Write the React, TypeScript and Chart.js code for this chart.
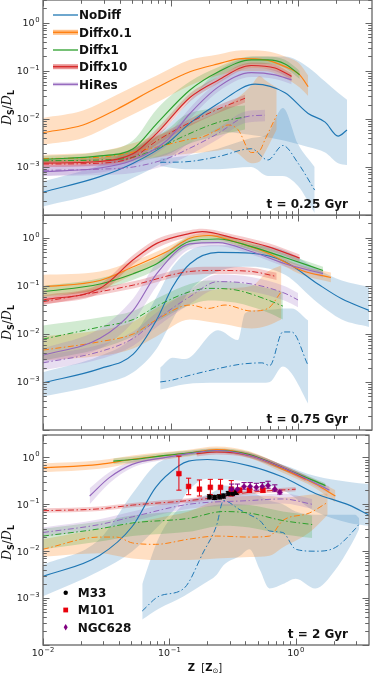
import React, { useEffect, useRef } from 'react';
import { Chart, registerables } from 'chart.js';

Chart.register(...registerables);

// ---------------- meta ----------------
const SERIES = ['NoDiff', 'Diffx0.1', 'Diffx1', 'Diffx10', 'HiRes'];
const COLORS = ['#1f77b4', '#ff7f0e', '#2ca02c', '#d62728', '#9467bd'];
const BAND_ALPHA = [0.22, 0.25, 0.22, 0.24, 0.22];
const PANEL_TIMES = ['t = 0.25 Gyr', 't = 0.75 Gyr', 't = 2 Gyr'];
const X_MIN = 0.01;
const X_MAX = 3.8;
const Y_MIN = 1e-4;
const Y_MAX = 3;
const X_MAJOR = [0.01, 0.1, 1];
const X_MINOR = [0.02, 0.03, 0.04, 0.05, 0.06, 0.07, 0.08, 0.09, 0.2, 0.3, 0.4, 0.5, 0.6, 0.7, 0.8, 0.9, 2, 3];
const Y_MAJOR = [1e-4, 1e-3, 1e-2, 1e-1, 1];
const Y_MINOR = [
  2e-4, 3e-4, 4e-4, 5e-4, 6e-4, 7e-4, 8e-4, 9e-4,
  2e-3, 3e-3, 4e-3, 5e-3, 6e-3, 7e-3, 8e-3, 9e-3,
  0.02, 0.03, 0.04, 0.05, 0.06, 0.07, 0.08, 0.09,
  0.2, 0.3, 0.4, 0.5, 0.6, 0.7, 0.8, 0.9, 2, 3,
];
const Y_TICK_VALUES = [1, 0.1, 0.01, 0.001];
const Y_TICK_EXP = ['0', '\u22121', '\u22122', '\u22123'];
const X_TICK_VALUES = [0.01, 0.1, 1];
const X_TICK_EXP = ['\u22122', '\u22121', '0'];
const OBS_NAMES = ['M33', 'M101', 'NGC628'];

// ---------------- t = 0.25 Gyr ----------------
const t1_nodiff_x = [0.01, 0.028, 0.051, 0.094, 0.142, 0.236, 0.46, 0.79, 1.2, 1.63, 2.06, 2.42];
const t1_nodiff_med = [3.0e-4, 6.3e-4, 1.2e-3, 3.1e-3, 8.2e-3, 0.021, 0.053, 0.035, 0.013, 8.6e-3, 4.4e-3, 5.9e-3];
const t1_nodiff_lo = [1.5e-4, 3.0e-4, 6.0e-4, 1.4e-3, 3.2e-3, 5.5e-3, 4.5e-3, 3.5e-3, 2.6e-3, 2.0e-3, 1.2e-3, 1.1e-3];
const t1_nodiff_hi = [5.0e-4, 1.1e-3, 2.5e-3, 7.0e-3, 0.025, 0.1, 0.2, 0.2, 0.12, 0.06, 0.035, 0.025];
const t1_nodiff_dash_x = [0.083, 0.13, 0.236, 0.43, 0.58, 0.76, 1.0, 1.35];
const t1_nodiff_dash_val = [1.25e-3, 1.28e-3, 1.64e-3, 2.4e-3, 1.4e-3, 2.8e-3, 1.2e-3, 3.3e-4];
const t1_nodiff_dash_lo = [1.05e-3, 9.0e-4, 9.0e-4, 1.0e-3, 6.5e-4, 6.5e-4, 4.0e-4, 1.1e-4];
const t1_nodiff_dash_hi = [1.5e-3, 1.7e-3, 2.4e-3, 4.0e-3, 5.0e-3, 0.017, 3.0e-3, 1.0e-3];

const t1_d01_x = [0.01, 0.0206, 0.038, 0.078, 0.142, 0.236, 0.363, 0.55, 0.79, 1.03, 1.2];
const t1_d01_med = [5.2e-3, 7.5e-3, 0.016, 0.045, 0.096, 0.14, 0.18, 0.17, 0.123, 0.083, 0.047];
const t1_d01_lo = [2.9e-3, 4.0e-3, 8.5e-3, 0.022, 0.05, 0.08, 0.1, 0.1, 0.07, 0.045, 0.03];
const t1_d01_hi = [0.0105, 0.015, 0.032, 0.08, 0.17, 0.22, 0.27, 0.26, 0.2, 0.14, 0.08];
const t1_d01_dash_x = [0.01, 0.028, 0.078, 0.142, 0.177, 0.236, 0.283, 0.338, 0.43, 0.5, 0.55, 0.68];
const t1_d01_dash_val = [1.5e-3, 1.6e-3, 2.6e-3, 3.8e-3, 4.2e-3, 6.0e-3, 7.5e-3, 6.0e-3, 2.0e-3, 2.2e-3, 3.7e-3, 0.012];
const t1_d01_dash_lo = [1.25e-3, 1.3e-3, 1.6e-3, 1.9e-3, 2.0e-3, 2.2e-3, 2.4e-3, 1.9e-3, 1.2e-3, 1.3e-3, 2.0e-3, 6.0e-3];
const t1_d01_dash_hi = [1.8e-3, 2.1e-3, 4.5e-3, 8.0e-3, 0.01, 0.014, 0.02, 0.028, 0.05, 0.078, 0.065, 0.045];

const t1_d1_x = [0.01, 0.028, 0.051, 0.078, 0.142, 0.236, 0.43, 0.58, 0.79, 1.03];
const t1_d1_med = [1.45e-3, 1.7e-3, 2.4e-3, 8.0e-3, 0.04, 0.095, 0.17, 0.17, 0.14, 0.083];
const t1_d1_lo = [1.25e-3, 1.45e-3, 1.8e-3, 5.0e-3, 0.028, 0.075, 0.14, 0.14, 0.115, 0.068];
const t1_d1_hi = [1.7e-3, 2.1e-3, 3.6e-3, 0.016, 0.06, 0.12, 0.2, 0.2, 0.17, 0.1];
const t1_d1_dash_x = [0.01, 0.028, 0.051, 0.094, 0.13, 0.236, 0.384];
const t1_d1_dash_val = [1.35e-3, 1.4e-3, 1.6e-3, 3.0e-3, 4.5e-3, 8.5e-3, 0.011];
const t1_d1_dash_lo = [1.2e-3, 1.2e-3, 1.3e-3, 1.8e-3, 2.8e-3, 4.5e-3, 6.0e-3];
const t1_d1_dash_hi = [1.5e-3, 1.7e-3, 2.4e-3, 6.0e-3, 0.012, 0.017, 0.019];

const t1_d10_x = [0.01, 0.028, 0.051, 0.078, 0.142, 0.236, 0.43, 0.66, 0.89];
const t1_d10_med = [1.2e-3, 1.3e-3, 1.9e-3, 5.0e-3, 0.028, 0.064, 0.13, 0.115, 0.077];
const t1_d10_lo = [1.0e-3, 1.1e-3, 1.6e-3, 4.0e-3, 0.023, 0.055, 0.115, 0.1, 0.066];
const t1_d10_hi = [1.4e-3, 1.55e-3, 2.3e-3, 6.2e-3, 0.034, 0.075, 0.15, 0.135, 0.09];
const t1_d10_dash_x = [0.01, 0.028, 0.051, 0.078, 0.13, 0.223, 0.384];
const t1_d10_dash_val = [1.15e-3, 1.2e-3, 1.6e-3, 3.5e-3, 7.5e-3, 0.015, 0.027];
const t1_d10_dash_lo = [1.0e-3, 1.05e-3, 1.35e-3, 2.9e-3, 6.3e-3, 0.0125, 0.022];
const t1_d10_dash_hi = [1.35e-3, 1.4e-3, 1.9e-3, 4.2e-3, 9.0e-3, 0.018, 0.032];

const t1_hires_x = [0.01, 0.028, 0.051, 0.094, 0.142, 0.236, 0.43, 0.66, 0.89];
const t1_hires_med = [8.0e-4, 9.5e-4, 1.4e-3, 3.6e-3, 0.013, 0.046, 0.092, 0.083, 0.065];
const t1_hires_lo = [6.5e-4, 7.7e-4, 1.1e-3, 2.8e-3, 0.01, 0.037, 0.075, 0.068, 0.053];
const t1_hires_hi = [1.0e-3, 1.2e-3, 1.8e-3, 4.6e-3, 0.017, 0.058, 0.115, 0.104, 0.081];
const t1_hires_dash_x = [0.01, 0.028, 0.051, 0.094, 0.13, 0.236, 0.384, 0.55];
const t1_hires_dash_val = [8.5e-4, 9.0e-4, 1.0e-3, 1.5e-3, 2.2e-3, 5.0e-3, 0.011, 0.012];
const t1_hires_dash_lo = [6.5e-4, 6.8e-4, 7.5e-4, 1.1e-3, 1.6e-3, 3.8e-3, 8.2e-3, 9.0e-3];
const t1_hires_dash_hi = [1.1e-3, 1.17e-3, 1.3e-3, 1.95e-3, 2.9e-3, 6.5e-3, 0.0143, 0.0156];

// ---------------- t = 0.75 Gyr ----------------
const t2_nodiff_x = [0.01, 0.028, 0.051, 0.078, 0.104, 0.142, 0.236, 0.43, 0.79, 1.43, 2.2, 3.6];
const t2_nodiff_med = [9.6e-4, 1.9e-3, 3.8e-3, 0.02, 0.096, 0.29, 0.5, 0.48, 0.32, 0.11, 0.054, 0.031];
const t2_nodiff_lo = [5.0e-4, 9.0e-4, 1.6e-3, 5.0e-3, 0.02, 0.08, 0.2, 0.25, 0.17, 0.044, 0.02, 0.014];
const t2_nodiff_hi = [1.6e-3, 3.5e-3, 9.0e-3, 0.06, 0.25, 0.55, 0.7, 0.7, 0.55, 0.22, 0.13, 0.096];
const t2_nodiff_dash_x = [0.083, 0.104, 0.13, 0.236, 0.338, 0.384, 0.52, 0.6, 0.76, 0.89, 1.2];
const t2_nodiff_dash_val = [1.0e-3, 1.1e-3, 1.3e-3, 1.9e-3, 2.3e-3, 2.4e-3, 2.5e-3, 2.2e-3, 0.011, 0.011, 2.2e-3];
const t2_nodiff_dash_lo = [7.0e-4, 8.0e-4, 9.0e-4, 9.6e-4, 9.6e-4, 9.6e-4, 9.6e-4, 1.0e-3, 2.1e-3, 1.5e-3, 3.5e-4];
const t2_nodiff_dash_hi = [2.0e-3, 3.2e-3, 3.0e-3, 0.012, 7.5e-3, 0.027, 0.032, 0.032, 0.034, 0.034, 0.019];

const t2_d01_x = [0.01, 0.028, 0.051, 0.094, 0.142, 0.2, 0.32, 0.58, 1.07, 1.81];
const t2_d01_med = [0.096, 0.13, 0.25, 0.52, 0.98, 1.12, 0.83, 0.48, 0.21, 0.15];
const t2_d01_lo = [0.06, 0.085, 0.17, 0.4, 0.85, 1.0, 0.72, 0.4, 0.17, 0.12];
const t2_d01_hi = [0.17, 0.2, 0.33, 0.65, 1.1, 1.3, 0.95, 0.56, 0.26, 0.19];
const t2_d01_dash_x = [0.01, 0.028, 0.051, 0.078, 0.142, 0.197, 0.268, 0.43, 0.58, 0.74];
const t2_d01_dash_val = [4.6e-3, 6.9e-3, 0.01, 0.02, 0.04, 0.034, 0.04, 0.03, 0.034, 0.076];
const t2_d01_dash_lo = [2.8e-3, 3.5e-3, 5.0e-3, 9.0e-3, 0.02, 0.018, 0.016, 0.013, 0.015, 0.02];
const t2_d01_dash_hi = [9.0e-3, 0.012, 0.018, 0.035, 0.07, 0.08, 0.09, 0.1, 0.2, 0.27];

const t2_d1_x = [0.01, 0.028, 0.051, 0.078, 0.142, 0.236, 0.43, 0.79, 1.57];
const t2_d1_med = [0.076, 0.11, 0.18, 0.29, 0.85, 0.95, 0.66, 0.39, 0.21];
const t2_d1_lo = [0.057, 0.083, 0.135, 0.22, 0.68, 0.8, 0.56, 0.33, 0.175];
const t2_d1_hi = [0.1, 0.145, 0.24, 0.38, 1.05, 1.15, 0.8, 0.47, 0.25];
const t2_d1_dash_x = [0.01, 0.028, 0.051, 0.078, 0.142, 0.197, 0.32, 0.58, 0.76];
const t2_d1_dash_val = [7.8e-3, 0.014, 0.02, 0.038, 0.076, 0.089, 0.083, 0.051, 0.038];
const t2_d1_dash_lo = [2.8e-3, 5.0e-3, 9.0e-3, 0.018, 0.04, 0.05, 0.045, 0.028, 0.02];
const t2_d1_dash_hi = [0.015, 0.022, 0.03, 0.055, 0.11, 0.13, 0.12, 0.09, 0.075];

const t2_d10_x = [0.01, 0.028, 0.051, 0.078, 0.142, 0.177, 0.32, 0.58, 1.03];
const t2_d10_med = [0.051, 0.089, 0.35, 0.77, 1.24, 1.35, 0.98, 0.66, 0.38];
const t2_d10_lo = [0.041, 0.071, 0.28, 0.62, 1.05, 1.15, 0.83, 0.56, 0.32];
const t2_d10_hi = [0.064, 0.11, 0.44, 0.95, 1.45, 1.55, 1.15, 0.78, 0.45];
const t2_d10_dash_x = [0.01, 0.028, 0.051, 0.142, 0.236, 0.43, 0.68];
const t2_d10_dash_val = [0.047, 0.076, 0.104, 0.2, 0.21, 0.2, 0.157];
const t2_d10_dash_lo = [0.04, 0.065, 0.088, 0.17, 0.178, 0.17, 0.133];
const t2_d10_dash_hi = [0.056, 0.091, 0.125, 0.24, 0.25, 0.24, 0.188];

const t2_hires_x = [0.01, 0.028, 0.051, 0.078, 0.142, 0.236, 0.43, 0.79, 1.57];
const t2_hires_med = [3.6e-3, 8.1e-3, 0.031, 0.18, 0.75, 0.8, 0.52, 0.29, 0.18];
const t2_hires_lo = [2.5e-3, 5.0e-3, 0.018, 0.1, 0.58, 0.67, 0.45, 0.25, 0.15];
const t2_hires_hi = [5.0e-3, 0.013, 0.055, 0.3, 0.92, 0.95, 0.6, 0.34, 0.21];
const t2_hires_dash_x = [0.01, 0.028, 0.051, 0.078, 0.142, 0.236, 0.43, 0.79, 1.0];
const t2_hires_dash_val = [2.5e-3, 4.3e-3, 8.1e-3, 0.02, 0.06, 0.123, 0.11, 0.07, 0.051];
const t2_hires_dash_lo = [1.75e-3, 3.0e-3, 5.7e-3, 0.014, 0.042, 0.086, 0.077, 0.049, 0.036];
const t2_hires_dash_hi = [3.5e-3, 6.0e-3, 0.0113, 0.028, 0.084, 0.172, 0.154, 0.098, 0.071];

// ---------------- t = 2 Gyr ----------------
const t3_nodiff_x = [0.01, 0.028, 0.051, 0.078, 0.119, 0.142, 0.2, 0.43, 0.79, 1.43, 2.65, 3.77];
const t3_nodiff_med = [2.9e-3, 8.1e-3, 0.034, 0.23, 0.66, 0.83, 0.9, 0.66, 0.38, 0.17, 0.096, 0.06];
const t3_nodiff_lo = [1.1e-3, 3.8e-3, 0.01, 0.03, 0.1, 0.2, 0.35, 0.3, 0.2, 0.07, 0.04, 0.035];
const t3_nodiff_hi = [5.1e-3, 0.018, 0.17, 0.7, 1.1, 1.2, 1.3, 1.1, 0.7, 0.4, 0.3, 0.27];
const t3_nodiff_dash_x = [0.061, 0.083, 0.13, 0.186, 0.236, 0.268, 0.363, 0.43, 0.52, 0.62, 0.79, 1.0, 1.43, 2.06, 2.96, 3.18];
const t3_nodiff_dash_val = [5.3e-4, 1.1e-3, 1.6e-3, 9.6e-3, 0.035, 0.12, 0.076, 0.06, 0.045, 0.027, 0.025, 0.011, 0.01, 0.012, 0.03, 0.038];
const t3_nodiff_dash_lo = [3.5e-4, 6.0e-4, 1.1e-3, 2.0e-3, 3.1e-3, 5.0e-3, 8.0e-3, 0.011, 4.0e-3, 1.6e-3, 2.0e-3, 2.6e-3, 1.6e-3, 4.0e-3, 0.02, 0.03];
const t3_nodiff_dash_hi = [2.0e-3, 0.02, 0.1, 0.15, 0.2, 0.25, 0.22, 0.2, 0.15, 0.12, 0.1, 0.07, 0.06, 0.06, 0.06, 0.05];

const t3_d01_x = [0.01, 0.028, 0.051, 0.142, 0.236, 0.43, 0.79, 1.43, 2.06];
const t3_d01_med = [0.6, 0.71, 0.91, 1.24, 1.47, 1.14, 0.56, 0.27, 0.15];
const t3_d01_lo = [0.48, 0.57, 0.75, 1.05, 1.27, 0.97, 0.47, 0.22, 0.11];
const t3_d01_hi = [0.74, 0.87, 1.1, 1.45, 1.7, 1.35, 0.67, 0.33, 0.2];
const t3_d01_dash_x = [0.01, 0.028, 0.038, 0.051, 0.078, 0.142, 0.236, 0.43, 0.62, 0.79, 1.28, 1.79];
const t3_d01_dash_val = [0.011, 0.02, 0.02, 0.015, 0.014, 0.018, 0.021, 0.02, 0.021, 0.045, 0.065, 0.11];
const t3_d01_dash_lo = [7.6e-3, 9.0e-3, 8.0e-3, 7.0e-3, 6.5e-3, 6.5e-3, 7.0e-3, 7.5e-3, 8.0e-3, 0.012, 0.025, 0.06];
const t3_d01_dash_hi = [0.018, 0.03, 0.035, 0.04, 0.05, 0.07, 0.12, 0.15, 0.15, 0.14, 0.16, 0.17];

const t3_d1_x = [0.036, 0.051, 0.094, 0.142, 0.236, 0.43, 0.79, 1.72];
const t3_d1_med = [0.83, 0.9, 1.1, 1.24, 1.4, 1.15, 0.6, 0.25];
const t3_d1_lo = [0.72, 0.78, 0.96, 1.1, 1.25, 1.02, 0.53, 0.22];
const t3_d1_hi = [0.95, 1.03, 1.25, 1.4, 1.57, 1.3, 0.68, 0.28];
const t3_d1_dash_x = [0.01, 0.028, 0.051, 0.142, 0.268, 0.43, 0.79, 1.35];
const t3_d1_dash_val = [0.021, 0.03, 0.04, 0.05, 0.07, 0.065, 0.045, 0.037];
const t3_d1_dash_lo = [0.011, 0.016, 0.021, 0.026, 0.035, 0.032, 0.023, 0.019];
const t3_d1_dash_hi = [0.03, 0.043, 0.058, 0.075, 0.1, 0.096, 0.07, 0.058];

const t3_d10_x = [0.164, 0.236, 0.43, 0.79, 1.2];
const t3_d10_med = [1.2, 1.3, 1.1, 0.6, 0.35];
const t3_d10_lo = [1.05, 1.15, 0.97, 0.53, 0.31];
const t3_d10_hi = [1.35, 1.47, 1.25, 0.68, 0.4];
const t3_d10_dash_x = [0.01, 0.028, 0.051, 0.142, 0.236, 0.43, 1.0];
const t3_d10_dash_val = [0.073, 0.08, 0.096, 0.12, 0.14, 0.18, 0.21];
const t3_d10_dash_lo = [0.066, 0.072, 0.086, 0.108, 0.126, 0.162, 0.19];
const t3_d10_dash_hi = [0.082, 0.09, 0.107, 0.134, 0.157, 0.2, 0.235];

const t3_hires_x = [0.0234, 0.0335, 0.0508, 0.094, 0.142, 0.236, 0.43, 0.79, 1.85];
const t3_hires_med = [0.15, 0.37, 0.71, 1.0, 1.2, 1.4, 1.1, 0.6, 0.2];
const t3_hires_lo = [0.1, 0.28, 0.6, 0.9, 1.1, 1.25, 1.0, 0.53, 0.17];
const t3_hires_hi = [0.22, 0.48, 0.85, 1.15, 1.35, 1.55, 1.25, 0.68, 0.24];
const t3_hires_dash_x = [0.01, 0.028, 0.051, 0.142, 0.43, 0.79, 1.35];
const t3_hires_dash_val = [0.025, 0.037, 0.054, 0.1, 0.12, 0.13, 0.1];
const t3_hires_dash_lo = [0.02, 0.03, 0.043, 0.08, 0.096, 0.104, 0.08];
const t3_hires_dash_hi = [0.032, 0.048, 0.07, 0.13, 0.156, 0.17, 0.13];

// ---------------- observations (t = 2 Gyr panel) ----------------
const m33_x = [0.208, 0.228, 0.249, 0.268, 0.293, 0.316, 0.338];
const m33_y = [0.145, 0.14, 0.145, 0.15, 0.17, 0.17, 0.18];
const m33_lo = [0.13, 0.126, 0.13, 0.135, 0.153, 0.153, 0.162];
const m33_hi = [0.16, 0.155, 0.16, 0.166, 0.188, 0.19, 0.2];

const m101_x = [0.119, 0.142, 0.173, 0.211, 0.254, 0.309, 0.36, 0.43, 0.55];
const m101_y = [0.45, 0.24, 0.21, 0.23, 0.23, 0.21, 0.2, 0.2, 0.2];
const m101_lo = [0.2, 0.16, 0.15, 0.16, 0.16, 0.15, 0.18, 0.18, 0.18];
const m101_hi = [1.06, 0.36, 0.33, 0.34, 0.34, 0.32, 0.22, 0.22, 0.22];

const ngc628_x = [0.311, 0.346, 0.39, 0.436, 0.488, 0.544, 0.604, 0.683, 0.748];
const ngc628_y = [0.21, 0.21, 0.24, 0.24, 0.23, 0.24, 0.25, 0.21, 0.18];
const ngc628_lo = [0.18, 0.18, 0.21, 0.21, 0.2, 0.21, 0.22, 0.19, 0.165];
const ngc628_hi = [0.27, 0.27, 0.29, 0.29, 0.28, 0.29, 0.31, 0.26, 0.2];

// ---------------- tables built from the arrays ----------------
type Band = { x: number[]; m: number[]; lo: number[]; hi: number[] };
const mk = (x: number[], m: number[], lo: number[], hi: number[]): Band => ({ x, m, lo, hi });

const PANELS: { solid: Band[]; dash: Band[] }[] = [
  {
    solid: [
      mk(t1_nodiff_x, t1_nodiff_med, t1_nodiff_lo, t1_nodiff_hi),
      mk(t1_d01_x, t1_d01_med, t1_d01_lo, t1_d01_hi),
      mk(t1_d1_x, t1_d1_med, t1_d1_lo, t1_d1_hi),
      mk(t1_d10_x, t1_d10_med, t1_d10_lo, t1_d10_hi),
      mk(t1_hires_x, t1_hires_med, t1_hires_lo, t1_hires_hi),
    ],
    dash: [
      mk(t1_nodiff_dash_x, t1_nodiff_dash_val, t1_nodiff_dash_lo, t1_nodiff_dash_hi),
      mk(t1_d01_dash_x, t1_d01_dash_val, t1_d01_dash_lo, t1_d01_dash_hi),
      mk(t1_d1_dash_x, t1_d1_dash_val, t1_d1_dash_lo, t1_d1_dash_hi),
      mk(t1_d10_dash_x, t1_d10_dash_val, t1_d10_dash_lo, t1_d10_dash_hi),
      mk(t1_hires_dash_x, t1_hires_dash_val, t1_hires_dash_lo, t1_hires_dash_hi),
    ],
  },
  {
    solid: [
      mk(t2_nodiff_x, t2_nodiff_med, t2_nodiff_lo, t2_nodiff_hi),
      mk(t2_d01_x, t2_d01_med, t2_d01_lo, t2_d01_hi),
      mk(t2_d1_x, t2_d1_med, t2_d1_lo, t2_d1_hi),
      mk(t2_d10_x, t2_d10_med, t2_d10_lo, t2_d10_hi),
      mk(t2_hires_x, t2_hires_med, t2_hires_lo, t2_hires_hi),
    ],
    dash: [
      mk(t2_nodiff_dash_x, t2_nodiff_dash_val, t2_nodiff_dash_lo, t2_nodiff_dash_hi),
      mk(t2_d01_dash_x, t2_d01_dash_val, t2_d01_dash_lo, t2_d01_dash_hi),
      mk(t2_d1_dash_x, t2_d1_dash_val, t2_d1_dash_lo, t2_d1_dash_hi),
      mk(t2_d10_dash_x, t2_d10_dash_val, t2_d10_dash_lo, t2_d10_dash_hi),
      mk(t2_hires_dash_x, t2_hires_dash_val, t2_hires_dash_lo, t2_hires_dash_hi),
    ],
  },
  {
    solid: [
      mk(t3_nodiff_x, t3_nodiff_med, t3_nodiff_lo, t3_nodiff_hi),
      mk(t3_d01_x, t3_d01_med, t3_d01_lo, t3_d01_hi),
      mk(t3_d1_x, t3_d1_med, t3_d1_lo, t3_d1_hi),
      mk(t3_d10_x, t3_d10_med, t3_d10_lo, t3_d10_hi),
      mk(t3_hires_x, t3_hires_med, t3_hires_lo, t3_hires_hi),
    ],
    dash: [
      mk(t3_nodiff_dash_x, t3_nodiff_dash_val, t3_nodiff_dash_lo, t3_nodiff_dash_hi),
      mk(t3_d01_dash_x, t3_d01_dash_val, t3_d01_dash_lo, t3_d01_dash_hi),
      mk(t3_d1_dash_x, t3_d1_dash_val, t3_d1_dash_lo, t3_d1_dash_hi),
      mk(t3_d10_dash_x, t3_d10_dash_val, t3_d10_dash_lo, t3_d10_dash_hi),
      mk(t3_hires_dash_x, t3_hires_dash_val, t3_hires_dash_lo, t3_hires_dash_hi),
    ],
  },
];

const OBS = [
  { x: m33_x, y: m33_y, lo: m33_lo, hi: m33_hi, color: '#000000', style: 'circle', r: 2.3 },
  { x: m101_x, y: m101_y, lo: m101_lo, hi: m101_hi, color: '#e8000b', style: 'rect', r: 3.4 },
  { x: ngc628_x, y: ngc628_y, lo: ngc628_lo, hi: ngc628_hi, color: '#800080', style: 'rectRot', r: 2.8 },
];

// ---------------- layout ----------------
const W = 374;
const TOPS = [0, 215, 430];
const HEIGHTS = [216, 216, 244];
const PAD_BOTTOM = [1, 1, 29];
const AXIS_COLOR = '#666666';
const TEXT_COLOR = '#222222';
const DASHDOT = [6, 2.5, 1.5, 2.5];

const hexA = (hex: string, a: number) => {
  const n = parseInt(hex.slice(1), 16);
  return `rgba(${(n >> 16) & 255},${(n >> 8) & 255},${n & 255},${a})`;
};
const pts = (x: number[], y: number[]) => x.map((v, i) => ({ x: v, y: y[i] }));

function buildDatasets(pi: number) {
  const P = PANELS[pi];
  const top: any[] = [];
  const lines: any[] = [];
  const bands: any[] = [];
  if (pi === 2) {
    for (let k = OBS.length - 1; k >= 0; k--) {
      const o = OBS[k];
      top.push({
        data: pts(o.x, o.y),
        showLine: false,
        pointStyle: o.style,
        pointRadius: o.r,
        pointBackgroundColor: o.color,
        pointBorderColor: o.color,
        pointBorderWidth: 0.5,
      });
    }
    for (let k = OBS.length - 1; k >= 0; k--) {
      const o = OBS[k];
      o.x.forEach((xv, i) => {
        top.push({
          data: [{ x: xv, y: o.lo[i] }, { x: xv, y: o.hi[i] }],
          borderColor: o.color,
          borderWidth: 1,
          pointStyle: 'line',
          pointRadius: 2.6,
          pointBorderColor: o.color,
          pointBorderWidth: 1,
          tension: 0,
          fill: false,
        });
      });
    }
  }
  for (let s = SERIES.length - 1; s >= 0; s--) {
    const c = COLORS[s];
    const sol = P.solid[s];
    const dsh = P.dash[s];
    lines.push({
      data: pts(sol.x, sol.m),
      borderColor: c,
      borderWidth: 1.15,
      pointRadius: 0,
      fill: false,
      cubicInterpolationMode: 'monotone',
    });
    lines.push({
      data: pts(dsh.x, dsh.m),
      borderColor: c,
      borderWidth: 1,
      borderDash: DASHDOT,
      pointRadius: 0,
      fill: false,
      cubicInterpolationMode: 'monotone',
    });
  }
  for (let s = SERIES.length - 1; s >= 0; s--) {
    const c = COLORS[s];
    for (const b of [P.solid[s], P.dash[s]]) {
      bands.push({
        data: pts(b.x, b.hi),
        borderWidth: 0,
        borderColor: 'rgba(0,0,0,0)',
        pointRadius: 0,
        fill: false,
        cubicInterpolationMode: 'monotone',
      });
      bands.push({
        data: pts(b.x, b.lo),
        borderWidth: 0,
        borderColor: 'rgba(0,0,0,0)',
        pointRadius: 0,
        fill: '-1',
        backgroundColor: hexA(c, BAND_ALPHA[s]),
        cubicInterpolationMode: 'monotone',
      });
    }
  }
  return [...top, ...lines, ...bands];
}

function drawPow(ctx: CanvasRenderingContext2D, exp: string, x: number, baseY: number, align: 'right' | 'center') {
  ctx.font = '9.5px "DejaVu Sans"';
  const w1 = ctx.measureText('10').width;
  ctx.font = '6.8px "DejaVu Sans"';
  const w2 = ctx.measureText(exp).width;
  const total = w1 + 0.6 + w2;
  const x0 = align === 'right' ? x - total : x - total / 2;
  ctx.textAlign = 'left';
  ctx.textBaseline = 'alphabetic';
  ctx.fillStyle = TEXT_COLOR;
  ctx.font = '9.5px "DejaVu Sans"';
  ctx.fillText('10', x0, baseY);
  ctx.font = '6.8px "DejaVu Sans"';
  ctx.fillText(exp, x0 + w1 + 0.6, baseY - 4.3);
}

function drawParts(ctx: CanvasRenderingContext2D, parts: { t: string; f: string; dy: number }[], cx: number, baseY: number) {
  let total = 0;
  const ws = parts.map((p) => {
    ctx.font = p.f;
    const w = ctx.measureText(p.t).width;
    total += w;
    return w;
  });
  let x = cx - total / 2;
  ctx.textAlign = 'left';
  ctx.textBaseline = 'alphabetic';
  parts.forEach((p, i) => {
    ctx.font = p.f;
    ctx.fillText(p.t, x, baseY + p.dy);
    x += ws[i];
  });
}

function makeDecor(pi: number) {
  return {
    id: 'decor' + pi,
    afterDraw(chart: any) {
      const ctx: CanvasRenderingContext2D = chart.ctx;
      const a = chart.chartArea;
      const xs = chart.scales.x;
      const ys = chart.scales.y;
      ctx.save();
      ctx.strokeStyle = AXIS_COLOR;
      const seg = (x1: number, y1: number, x2: number, y2: number) => {
        ctx.beginPath();
        ctx.moveTo(x1, y1);
        ctx.lineTo(x2, y2);
        ctx.stroke();
      };
      ctx.lineWidth = 1;
      X_MAJOR.forEach((v) => {
        const p = Math.round(xs.getPixelForValue(v)) + 0.5;
        seg(p, a.bottom, p, a.bottom - 6.5);
        seg(p, a.top, p, a.top + 6.5);
      });
      X_MINOR.forEach((v) => {
        const p = Math.round(xs.getPixelForValue(v)) + 0.5;
        if (p > a.right) return;
        seg(p, a.bottom, p, a.bottom - 3.8);
        seg(p, a.top, p, a.top + 3.8);
      });
      Y_MAJOR.forEach((v) => {
        const p = Math.round(ys.getPixelForValue(v)) + 0.5;
        seg(a.left, p, a.left + 6.5, p);
        seg(a.right, p, a.right - 6.5, p);
      });
      Y_MINOR.forEach((v) => {
        const p = Math.round(ys.getPixelForValue(v)) + 0.5;
        if (p < a.top) return;
        seg(a.left, p, a.left + 3.8, p);
        seg(a.right, p, a.right - 3.8, p);
      });
      ctx.lineWidth = 1.3;
      ctx.strokeRect(a.left, a.top, a.right - a.left, a.bottom - a.top);

      // y tick labels
      Y_TICK_VALUES.forEach((v, i) => {
        const p = ys.getPixelForValue(v);
        drawPow(ctx, Y_TICK_EXP[i], 39.5, p + 3.4, 'right');
      });

      // y axis title
      ctx.save();
      ctx.translate(7, a.top + 107.5);
      ctx.rotate(-Math.PI / 2);
      ctx.fillStyle = '#111';
      drawParts(
        ctx,
        [
          { t: 'D', f: 'italic 12.5px "DejaVu Serif"', dy: 0 },
          { t: 'S', f: 'bold 8px "DejaVu Sans"', dy: 2.5 },
          { t: '/', f: '12px "DejaVu Sans"', dy: 0 },
          { t: 'D', f: 'italic 12.5px "DejaVu Serif"', dy: 0 },
          { t: 'L', f: 'bold 8px "DejaVu Sans"', dy: 2.5 },
        ],
        0,
        4
      );
      ctx.restore();

      // time label
      ctx.fillStyle = '#111';
      ctx.font = 'bold 12px "DejaVu Sans"';
      ctx.textAlign = 'right';
      ctx.textBaseline = 'alphabetic';
      ctx.fillText(PANEL_TIMES[pi], 348, a.bottom - 7);

      if (pi === 0) {
        const rows = [15, 32.3, 50, 66.7, 84.3];
        SERIES.forEach((name, i) => {
          const y = rows[i];
          const c = COLORS[i];
          if (i === 1 || i === 3) {
            ctx.fillStyle = hexA(c, 0.5);
            ctx.fillRect(53, y - 2.5, 25, 5);
          } else if (i === 4) {
            ctx.fillStyle = hexA(c, 0.3);
            ctx.fillRect(53, y - 1.8, 25, 3.6);
          }
          ctx.strokeStyle = c;
          ctx.lineWidth = 1.3;
          seg(53, y, 78, y);
          ctx.fillStyle = '#111';
          ctx.font = 'bold 12px "DejaVu Sans"';
          ctx.textAlign = 'left';
          ctx.fillText(name, 79, y + 4.3);
        });
      }

      if (pi === 2) {
        // x tick labels
        X_TICK_VALUES.forEach((v, i) => {
          const p = xs.getPixelForValue(v);
          drawPow(ctx, X_TICK_EXP[i], p, a.bottom + 11, 'center');
        });
        // x title
        ctx.fillStyle = '#111';
        drawParts(
          ctx,
          [
            { t: 'Z', f: 'bold 10px "DejaVu Sans"', dy: 0 },
            { t: '  [', f: '10px "DejaVu Sans"', dy: 0 },
            { t: 'Z', f: 'bold 10px "DejaVu Sans"', dy: 0 },
            { t: '\u2299', f: '7px "DejaVu Sans"', dy: 2 },
            { t: ']', f: '10px "DejaVu Sans"', dy: 0 },
          ],
          205,
          a.bottom + 26
        );
        // observation legend
        const rows = [162.7, 180, 197.3];
        OBS_NAMES.forEach((name, i) => {
          const y = rows[i];
          const mx = 65.7;
          ctx.fillStyle = OBS[i].color;
          ctx.beginPath();
          if (i === 0) {
            ctx.arc(mx, y, 2.2, 0, Math.PI * 2);
          } else if (i === 1) {
            ctx.rect(mx - 2.4, y - 2.4, 4.8, 4.8);
          } else {
            ctx.moveTo(mx, y - 3.2);
            ctx.lineTo(mx + 2, y);
            ctx.lineTo(mx, y + 3.2);
            ctx.lineTo(mx - 2, y);
            ctx.closePath();
          }
          ctx.fill();
          ctx.fillStyle = '#111';
          ctx.font = 'bold 12px "DejaVu Sans"';
          ctx.textAlign = 'left';
          ctx.fillText(name, 77.7, y + 4.3);
        });
      }
      ctx.restore();
    },
  };
}

function makeConfig(pi: number): any {
  return {
    type: 'line',
    data: { datasets: buildDatasets(pi) },
    options: {
      animation: false,
      responsive: false,
      maintainAspectRatio: false,
      devicePixelRatio: 1,
      events: [],
      layout: { padding: { left: 43, right: 2, top: 0, bottom: PAD_BOTTOM[pi] } },
      plugins: {
        legend: { display: false },
        tooltip: { enabled: false },
        filler: { propagate: false, drawTime: 'beforeDatasetsDraw' },
      },
      scales: {
        x: { type: 'logarithmic', min: X_MIN, max: X_MAX, display: false },
        y: { type: 'logarithmic', min: Y_MIN, max: Y_MAX, display: false },
      },
    },
    plugins: [makeDecor(pi)],
  };
}

function Panel({ index }: { index: number }) {
  const ref = useRef<HTMLCanvasElement>(null);
  useEffect(() => {
    if (!ref.current) return;
    const chart = new Chart(ref.current, makeConfig(index));
    return () => chart.destroy();
  }, [index]);
  return (
    <canvas
      ref={ref}
      width={W}
      height={HEIGHTS[index]}
      style={{ position: 'absolute', left: 0, top: TOPS[index], width: W, height: HEIGHTS[index] }}
    />
  );
}

export default function App() {
  return (
    <div style={{ position: 'absolute', left: 0, top: 0, width: W, height: 674, background: '#ffffff', overflow: 'hidden' }}>
      {[0, 1, 2].map((i) => (
        <Panel key={i} index={i} />
      ))}
    </div>
  );
}
